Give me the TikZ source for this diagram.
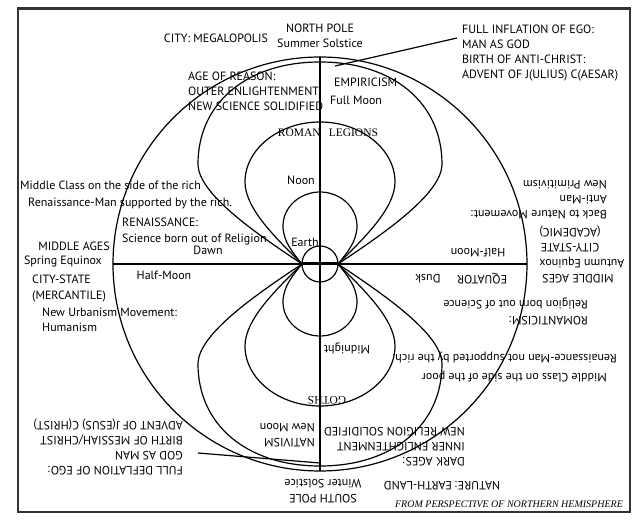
\documentclass[tikz,border=0pt]{standalone}
\usepackage{fontspec}
\setmainfont{PT Sans}
\newfontfamily\romanfont{Liberation Serif}

\begin{document}
\begin{tikzpicture}[x=1pt,y=1pt,
  lbl/.style={font=\fontsize{12}{15}\selectfont,inner sep=0pt},
  lblwide/.style={lbl,font=\fontsize{12}{16}\selectfont},
  flip/.style={lbl,rotate=180},
  flipwide/.style={lblwide,rotate=180},
  legion/.style={font=\romanfont\fontsize{11.5}{14}\selectfont,inner sep=0pt},
  field/.style={line width=1.2pt}]
  \fill[white] (-320,-257) rectangle (320,264);
  \useasboundingbox (-320,-257) rectangle (320,264);
  % frame
  \draw[black!80,line width=2.2pt] (-302,-248) rectangle (310,255.5);

  % outer orbit, axes and the earth
  \draw[field] (0,0) circle (207);
  \draw[field] (-207,0) -- (207,0);
  \draw[field] (0,207) -- (0,-207);
  \draw[field] (0,0) circle (18);
  \draw[line width=3pt] (-18,0) -- (18,0);

  % the three loops above the equator, mirrored below it
  \foreach \s in {1,-1}{
    \begin{scope}[yscale=\s]
      \draw[field] (-18,0) .. controls (-63,30) and (-122,70) .. (-122,100)
        .. controls (-122,161) and (-73,202) .. (0,202)
        .. controls (73,202) and (122,161) .. (122,100)
        .. controls (122,70) and (63,30) .. (18,0);
      \draw[field] (-18,0) .. controls (-43,25) and (-75,55) .. (-75,82)
        .. controls (-75,115) and (-41,142) .. (0,142)
        .. controls (41,142) and (75,115) .. (75,82)
        .. controls (75,55) and (43,25) .. (18,0);
      \draw[field] (-18,0) .. controls (-26,10) and (-37,22) .. (-37,38)
        .. controls (-37,57) and (-20,72) .. (0,72)
        .. controls (20,72) and (37,57) .. (37,38)
        .. controls (37,22) and (26,10) .. (18,0);
    \end{scope}
  }

  % northern half
  \node[lbl] (megalo) at (-104,226) {CITY: MEGALOPOLIS};
  \node[lbl,align=center,anchor=north] (npole) at (0,240) {NORTH POLE\\Summer Solstice};
  \node[lbl,align=left,anchor=north west] (inflate) at (142,239)
    {FULL INFLATION OF EGO:\\MAN AS GOD\\BIRTH OF ANTI-CHRIST:\\ADVENT OF J(ULIUS) C(AESAR)};
  \node[lbl,align=left,anchor=north west] (reason) at (-132,192)
    {AGE OF REASON:\\OUTER ENLIGHTENMENT\\NEW SCIENCE SOLIDIFIED};
  \node[lbl,anchor=west] (empir) at (14,182) {EMPIRICISM};
  \node[lbl,anchor=west] (fullmoon) at (10,164) {Full Moon};
  \node[legion] (legions) at (8,131) {ROMAN\hspace{8pt}LEGIONS};
  \node[lbl] (noon) at (-19,84) {Noon};
  \node[lbl,anchor=west] (richclass) at (-300,79) {Middle Class on the side of the rich};
  \node[lbl,anchor=west] (richman) at (-292,61) {Renaissance-Man supported by the rich.};
  \node[lblwide,align=left,anchor=north west] (renaiss) at (-198,46)
    {RENAISSANCE:\\Science born out of Religion};
  \node[lbl] (dawn) at (-112,14) {Dawn};
  \node[lbl] (midages) at (-246,18) {MIDDLE AGES};
  \node[lbl] (spring) at (-257,2) {Spring Equinox};
  \node[lblwide,align=left,anchor=north west] (mercant) at (-288,-11) {CITY-STATE\\(MERCANTILE)};
  \node[lbl] (halfwest) at (-156,-11) {Half-Moon};
  \node[lbl,align=left,anchor=north west] (urban) at (-278,-44) {New Urbanism Movement:\\Humanism};
  \node[lbl] (earth) at (-15,22) {Earth};

  % southern half, read upside down
  \node[flip] (midages2) at (258,-15) {MIDDLE AGES};
  \node[flip] (autumn) at (262,1) {Autumn Equinox};
  \node[flip,align=center] (academic) at (250,25.5) {CITY-STATE\\(ACADEMIC)};
  \node[flip,align=left,anchor=north west] (backnature) at (287,45)
    {Back to Nature Movement:\\Anti-Man\\New Primitivism};
  \node[flip] (halfeast) at (158,11) {Half-Moon};
  \node[flip] (equator) at (162,-15) {EQUATOR};
  \node[flip] (dusk) at (108,-15) {Dusk};
  \node[flipwide,align=left,anchor=north west] (romant) at (268,-61)
    {ROMANTICISM:\\Religion born out of Science};
  \node[flip] (midnight) at (27,-84) {Midnight};
  \node[flip,anchor=west] (poorman) at (297,-94) {Renaissance-Man not supported by the rich.};
  \node[flip,anchor=west] (poorclass) at (287,-113) {Middle Class on the side of the poor};
  \node[legion,rotate=180] (goths) at (7,-136) {GOTHS};
  \node[flip,align=left,anchor=north west] (nativism) at (-5,-183) {NATIVISM\\New Moon};
  \node[flip,align=left,anchor=north west] (darkages) at (145,-202)
    {DARK AGES:\\INNER ENLIGHTENMENT\\NEW RELIGION SOLIDIFIED};
  \node[flip] (earthland) at (122,-222) {NATURE: EARTH-LAND};
  \node[flip,align=center,anchor=north] (spole) at (3,-239) {SOUTH POLE\\Winter Solstice};
  \node[flip,align=left,anchor=north west] (deflate) at (-137,-211)
    {FULL DEFLATION OF EGO:\\GOD AS MAN\\BIRTH OF MESSIAH/CHRIST\\ADVENT OF J(ESUS) C(HRIST)};
  \node[font=\romanfont\itshape\fontsize{10}{11}\selectfont,inner sep=0pt] (persp) at (189,-240)
    {FROM PERSPECTIVE OF NORTHERN HEMISPHERE};

  % pointers from the poles to the ego blocks
  \coordinate (northtip) at (15,198);
  \coordinate (southtip) at (0,-199);
  \draw[field] (northtip) -- ([shift={(-5,-13)}]inflate.north west);
  \draw[field] (southtip) -- ([shift={(15,22)}]deflate.north west);
\end{tikzpicture}
\end{document}
